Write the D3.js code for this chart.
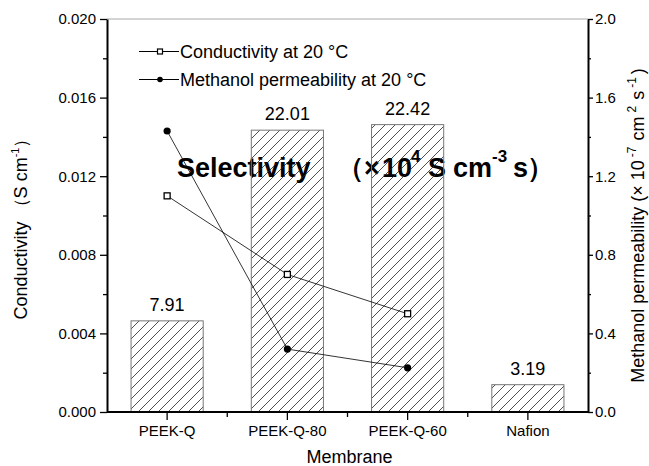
<!DOCTYPE html>
<html>
<head>
<meta charset="utf-8">
<script src="https://cdn.jsdelivr.net/npm/d3@7"></script>
<style>
  html, body { margin: 0; padding: 0; background: #fff; }
  svg { display: block; font-family: "Liberation Sans", Arial, sans-serif; }
</style>
</head>
<body>
<svg id="chart" width="649" height="466"></svg>
<script>
// Membranes and measured values
const membranes = ["PEEK-Q", "PEEK-Q-80", "PEEK-Q-60", "Nafion"];
const selectivity = [7.91, 22.01, 22.42, 3.19];          // ×10^4 S cm^-3 s
const conductivity = [0.0110, 0.0070, 0.0050];           // S cm^-1 (first three membranes)
const permeability = [1.43, 0.32, 0.225];                // ×10^-7 cm^2 s^-1
const leftTicks = [0, 0.004, 0.008, 0.012, 0.016, 0.020];
const rightTicks = [0, 0.4, 0.8, 1.2, 1.6, 2.0];
const legendItems = ["Conductivity at 20 °C", "Methanol permeability at 20 °C"];

const W = 649, H = 466;
const margin = { top: 19, right: 61, bottom: 54, left: 107 };
const x0 = margin.left, x1 = W - margin.right;
const y0 = H - margin.bottom, y1 = margin.top;

const svg = d3.select("#chart");

const x = d3.scaleBand().domain(membranes).range([x0, x1])
  .paddingInner(0.4).paddingOuter(0.2);
const yL = d3.scaleLinear().domain([0, 0.020]).range([y0, y1]);
const yR = d3.scaleLinear().domain([0, 2.0]).range([y0, y1]);
// selectivity bars share the plot height on their own (unlabelled) scale
const ySel = d3.scaleLinear().domain([1.17, 30.23]).range([y0, y1]);

// hatch fill for the bars
const defs = svg.append("defs");
defs.append("pattern")
  .attr("id", "hatch").attr("patternUnits", "userSpaceOnUse")
  .attr("width", 10).attr("height", 10)
  .append("path")
  .attr("d", "M-2,2 l4,-4 M0,10 l10,-10 M8,12 l4,-4")
  .attr("stroke", "#222").attr("stroke-width", 0.8).attr("fill", "none");

// top frame line
svg.append("line")
  .attr("x1", x0).attr("x2", x1).attr("y1", y1).attr("y2", y1)
  .attr("stroke", "#a8a8a8").attr("stroke-width", 1);

// big selectivity caption (sits underneath the bars)
const cap = svg.append("text")
  .attr("y", 177).attr("font-size", 27).attr("font-weight", "bold").attr("fill", "#000");
cap.append("tspan").attr("x", 177).attr("y", 177).text("Selectivity");
cap.append("tspan").attr("x", 337).attr("y", 177).text("（×");
cap.append("tspan").attr("x", 382).attr("y", 177).text("10");
cap.append("tspan").attr("x", 411).attr("y", 162).attr("font-size", 17).text("4");
cap.append("tspan").attr("x", 428).attr("y", 177).text("S");
cap.append("tspan").attr("x", 453).attr("y", 177).text("cm");
cap.append("tspan").attr("x", 492).attr("y", 162).attr("font-size", 17).text("-3");
cap.append("tspan").attr("x", 513).attr("y", 177).text("s");
cap.append("tspan").attr("x", 527).attr("y", 177).text("）");

// bars
const barData = membranes.map((m, i) => ({ m, v: selectivity[i] }));
svg.append("g").selectAll("rect").data(barData).join("rect")
  .attr("x", d => x(d.m))
  .attr("width", x.bandwidth())
  .attr("y", d => ySel(d.v))
  .attr("height", d => y0 - ySel(d.v))
  .attr("fill", "url(#hatch)")
  .attr("stroke", "#777").attr("stroke-width", 1);

svg.append("g").selectAll("text").data(barData).join("text")
  .attr("x", d => x(d.m) + x.bandwidth() / 2)
  .attr("y", d => ySel(d.v) - 10)
  .attr("text-anchor", "middle").attr("font-size", 18).attr("fill", "#000")
  .text(d => d.v.toFixed(2));

const cx = m => x(m) + x.bandwidth() / 2;

// conductivity series (left axis)
const condPts = conductivity.map((v, i) => ({ m: membranes[i], v }));
svg.append("path").datum(condPts)
  .attr("d", d3.line().x(d => cx(d.m)).y(d => yL(d.v)))
  .attr("fill", "none").attr("stroke", "#000").attr("stroke-width", 0.8);

// permeability series (right axis)
const permPts = permeability.map((v, i) => ({ m: membranes[i], v }));
svg.append("path").datum(permPts)
  .attr("d", d3.line().x(d => cx(d.m)).y(d => yR(d.v)))
  .attr("fill", "none").attr("stroke", "#000").attr("stroke-width", 0.8);

svg.append("g").selectAll("rect").data(condPts).join("rect")
  .attr("x", d => cx(d.m) - 3).attr("y", d => yL(d.v) - 3)
  .attr("width", 6).attr("height", 6)
  .attr("fill", "#fff").attr("stroke", "#000").attr("stroke-width", 1.3);

svg.append("g").selectAll("circle").data(permPts).join("circle")
  .attr("cx", d => cx(d.m)).attr("cy", d => yR(d.v)).attr("r", 3.6)
  .attr("fill", "#000");

// axes
function styleAxis(g, w) {
  g.select(".domain").attr("stroke-width", w);
  g.selectAll(".tick line").attr("stroke-width", 1.3);
  g.selectAll(".tick text").attr("fill", "#000").attr("font-size", 15)
    .attr("font-family", "\"Liberation Sans\", Arial, sans-serif");
}

const minorL = d3.range(0.002, 0.020, 0.004);
const minorR = d3.range(0.2, 2.0, 0.4);

svg.append("g").attr("transform", `translate(${x0},0)`)
  .call(d3.axisLeft(yL).tickValues(minorL).tickSize(4).tickSizeOuter(0).tickFormat(""))
  .call(g => g.select(".domain").remove())
  .call(g => g.selectAll(".tick line").attr("stroke-width", 1.3));
svg.append("g").attr("transform", `translate(${x0},0)`)
  .call(d3.axisLeft(yL).tickValues(leftTicks).tickSize(7).tickSizeOuter(0)
    .tickPadding(4).tickFormat(d3.format(".3f")))
  .call(g => styleAxis(g, 2));

svg.append("g").attr("transform", `translate(${x1},0)`)
  .call(d3.axisRight(yR).tickValues(minorR).tickSize(3).tickSizeOuter(0).tickFormat(""))
  .call(g => g.select(".domain").remove())
  .call(g => g.selectAll(".tick line").attr("stroke-width", 1.3));
svg.append("g").attr("transform", `translate(${x1},0)`)
  .call(d3.axisRight(yR).tickValues(rightTicks).tickSize(5).tickSizeOuter(0)
    .tickPadding(2).tickFormat(d3.format(".1f")))
  .call(g => styleAxis(g, 2));

// minor x ticks on the band boundaries
const bounds = membranes.slice(1).map(m => x(m) - x.step() * x.paddingInner() / 2);
svg.append("g").selectAll("line").data(bounds).join("line")
  .attr("x1", d => d).attr("x2", d => d).attr("y1", y0).attr("y2", y0 + 5)
  .attr("stroke", "#000").attr("stroke-width", 1.3);

svg.append("g").attr("transform", `translate(0,${y0})`)
  .call(d3.axisBottom(x).tickSize(8).tickSizeOuter(0).tickPadding(5))
  .call(g => styleAxis(g, 2))
  .call(g => g.select(".domain").attr("d", `M${x0},0H${x1}`));

// axis titles
svg.append("text")
  .attr("x", (x0 + x1) / 2 + 2).attr("y", 463)
  .attr("text-anchor", "middle").attr("font-size", 18).attr("fill", "#000")
  .text("Membrane");

const lt = svg.append("text")
  .attr("transform", `translate(27,${(y0 + y1) / 2 + 9}) rotate(-90)`)
  .attr("text-anchor", "middle").attr("font-size", 18).attr("fill", "#000");
lt.append("tspan").text("Conductivity ");
lt.append("tspan").text("（S cm");
lt.append("tspan").attr("dy", -8).attr("font-size", 11).text("-1");
lt.append("tspan").attr("dy", 8).text("）");

const rt = svg.append("text")
  .attr("transform", `translate(644,${(y0 + y1) / 2 + 10}) rotate(-90)`)
  .attr("text-anchor", "middle").attr("font-size", 18).attr("fill", "#000");
rt.append("tspan").text("Methanol permeability (× 10");
rt.append("tspan").attr("dx", 3).attr("dy", -8).attr("font-size", 12).text("-7");
rt.append("tspan").attr("dx", 6).attr("dy", 8).text("cm");
rt.append("tspan").attr("dx", 4).attr("dy", -8).attr("font-size", 12).text("2");
rt.append("tspan").attr("dx", 6).attr("dy", 8).text("s");
rt.append("tspan").attr("dx", 3).attr("dy", -8).attr("font-size", 12).text("-1");
rt.append("tspan").attr("dx", 3).attr("dy", 8).text(")");

// legend
const legRows = [51.5, 79.5];
const leg = svg.append("g");
legendItems.forEach((label, i) => {
  const y = legRows[i];
  leg.append("line").attr("x1", 139).attr("x2", 179).attr("y1", y).attr("y2", y)
    .attr("stroke", "#000").attr("stroke-width", 1);
  if (i === 0) {
    leg.append("rect").attr("x", 157.5).attr("y", y - 2.5).attr("width", 5).attr("height", 5)
      .attr("fill", "#fff").attr("stroke", "#000").attr("stroke-width", 1.2);
  } else {
    leg.append("circle").attr("cx", 160).attr("cy", y).attr("r", 2.8).attr("fill", "#000");
  }
  leg.append("text").attr("x", 180).attr("y", y + 6.5)
    .attr("font-size", 18).attr("fill", "#000").text(label);
});
</script>
</body>
</html>
